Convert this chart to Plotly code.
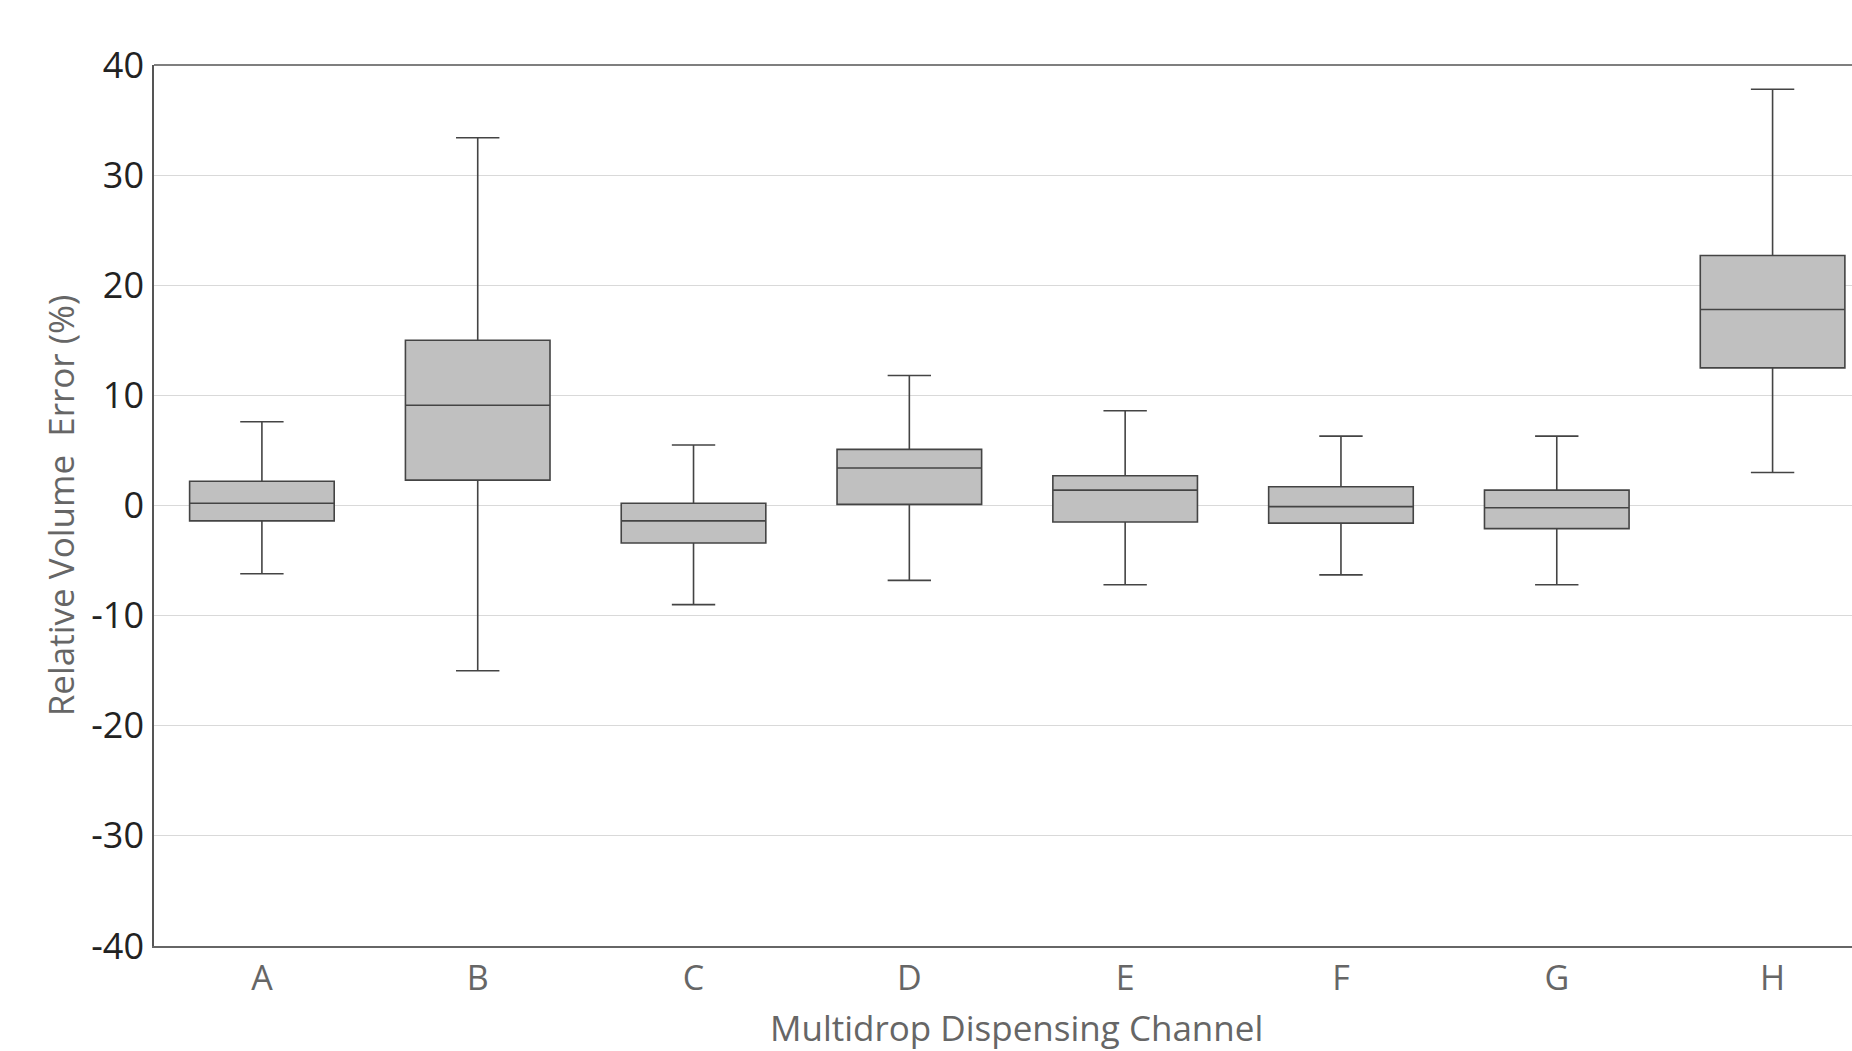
import plotly.graph_objects as go

channels = ["A", "B", "C", "D", "E", "F", "G", "H"]
lower_whisker = [-6.2, -15.0, -9.0, -6.8, -7.2, -6.3, -7.2, 3.0]
q1_values = [-1.4, 2.3, -3.4, 0.1, -1.5, -1.6, -2.1, 12.5]
median_values = [0.2, 9.1, -1.4, 3.4, 1.4, -0.1, -0.2, 17.8]
q3_values = [2.2, 15.0, 0.2, 5.1, 2.7, 1.7, 1.4, 22.7]
upper_whisker = [7.6, 33.4, 5.5, 11.8, 8.6, 6.3, 6.3, 37.8]

y_ticks = [40, 30, 20, 10, 0, -10, -20, -30, -40]

fig = go.Figure()
fig.add_trace(go.Box(
    x=channels,
    q1=q1_values,
    median=median_values,
    q3=q3_values,
    lowerfence=lower_whisker,
    upperfence=upper_whisker,
    fillcolor="#c0c0c0",
    line=dict(color="#444444", width=1.6),
    whiskerwidth=0.3,
    boxpoints=False,
    hoverinfo="skip",
    showlegend=False,
))

font_family = "Open Sans"
fig.update_layout(
    width=1852,
    height=1051,
    margin=dict(l=154, r=0, t=65, b=105, autoexpand=False),
    paper_bgcolor="white",
    plot_bgcolor="white",
    boxgap=0.33,
    boxgroupgap=0,
    font=dict(family=font_family),
    shapes=[dict(type="line", xref="paper", yref="paper", x0=0, x1=1, y0=1, y1=1,
                 line=dict(color="#555555", width=1.6))],
    annotations=[dict(text="Multidrop Dispensing Channel", xref="paper", yref="paper",
                      x=0.5082, y=-0.0925, xanchor="center", yanchor="middle",
                      showarrow=False,
                      font=dict(size=35, color="#666666", family=font_family))],
)
fig.update_xaxes(
    range=[-0.5, 7.368],
    showline=True, linecolor="#666666", linewidth=1.8,
    showgrid=False, zeroline=False,
    ticks="outside", ticklen=1, tickcolor="rgba(0,0,0,0)",
    tickfont=dict(size=34, color="#666666", family=font_family),
)
fig.update_yaxes(
    range=[-40, 40],
    tickvals=y_ticks,
    ticktext=[str(v) for v in y_ticks],
    showline=True, linecolor="#555555", linewidth=1.6,
    showgrid=True, gridcolor="#d9d9d9", gridwidth=1.2,
    zeroline=False,
    ticks="outside", ticklen=1, tickcolor="rgba(0,0,0,0)",
    tickfont=dict(size=36, color="#222222", family=font_family),
    title=dict(text="Relative Volume  Error (%)", standoff=6,
               font=dict(size=35, color="#666666", family=font_family)),
)

fig.write_html(
    "out.html",
    config={"displayModeBar": False},
    post_script="document.body.style.margin='0';document.body.style.overflow='hidden';",
)
